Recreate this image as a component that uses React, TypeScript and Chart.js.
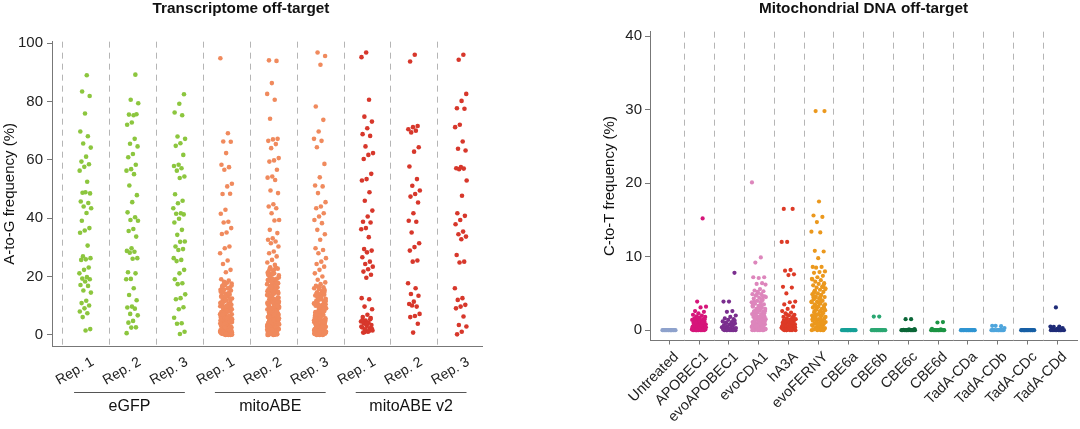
import React, { useEffect, useRef } from "react";
import { Chart, registerables } from "chart.js";

Chart.register(...registerables);

const FONT = "'Liberation Sans', Arial, Helvetica, sans-serif";

// ---------------- Left panel: Transcriptome off-target ----------------
const transcriptomeTitle = "Transcriptome off-target";
const transcriptomeYLabel = "A-to-G frequency (%)";
const transcriptomeCategories = ["Rep. 1", "Rep. 2", "Rep. 3", "Rep. 1", "Rep. 2", "Rep. 3", "Rep. 1", "Rep. 2", "Rep. 3"];
const transcriptomeGroups = ["eGFP", "mitoABE", "mitoABE v2"];
const transcriptomeGroupFirst = [0, 3, 6];
const transcriptomeGroupLast = [2, 5, 8];
const transcriptomeYTicks = [0, 20, 40, 60, 80, 100];

const egfpRep1 = [89.0, 83.4, 81.9, 75.9, 69.7, 68.1, 65.6, 64.2, 61.1, 59.4, 58.5, 57.6, 56.3, 52.5, 48.7, 48.5, 48.9, 45.7, 45.2, 44.0, 43.4, 41.8, 39.1, 36.6, 35.8, 35.0, 30.6, 26.9, 26.3, 25.9, 25.7, 23.1, 22.3, 21.1, 19.8, 19.3, 19.1, 18.3, 17.1, 16.8, 15.2, 14.5, 11.7, 10.9, 10.1, 9.1, 8.0, 7.4, 6.1, 2.0, 1.5];
const egfpRep2 = [89.2, 80.6, 79.4, 75.3, 75.5, 75.6, 72.8, 72.0, 67.2, 65.5, 64.6, 62.0, 60.9, 58.3, 56.8, 56.3, 55.1, 51.2, 47.9, 45.5, 42.0, 40.3, 39.4, 39.1, 36.3, 35.6, 33.7, 29.7, 28.8, 28.5, 28.2, 26.3, 26.1, 21.5, 21.1, 19.2, 19.1, 16.0, 13.7, 11.9, 9.7, 9.4, 9.0, 7.2, 6.7, 4.8, 4.2, 2.6, 2.5, 0.6];
const egfpRep3 = [82.5, 79.2, 76.2, 75.3, 68.0, 67.2, 65.7, 64.8, 61.7, 58.3, 57.9, 57.1, 56.3, 54.3, 53.8, 48.2, 46.0, 45.1, 43.4, 41.7, 41.5, 41.3, 39.8, 38.5, 36.0, 34.3, 32.0, 31.9, 30.3, 29.4, 29.1, 26.3, 25.7, 25.3, 22.3, 21.1, 19.1, 17.7, 17.4, 13.9, 12.6, 12.2, 9.5, 8.8, 5.9, 4.0, 3.8, 1.1, 0.3];

const mitoAbeRep1 = [94.8, 69.1, 66.3, 66.2, 62.3, 58.3, 57.5, 56.6, 51.8, 50.9, 48.3, 48.4, 42.9, 41.5, 38.8, 38.5, 36.6, 35.1, 34.6, 30.3, 29.7, 28.0, 25.5, 24.3, 22.3, 21.5, 19.1, 18.6,
  18.2, 17.6, 17.9, 16.8, 16.2, 17.1, 15.5, 15.9, 14.7, 15.2, 14.1, 13.6, 14.4, 13.0, 12.5, 13.3, 12.0, 11.6, 12.2, 11.1, 10.7, 11.4, 10.3, 9.9, 10.5, 9.6, 9.2, 9.8, 8.9, 8.5, 9.0, 8.2, 7.8, 8.6, 7.5, 7.1, 7.9, 6.8, 6.4, 7.2, 6.1, 5.8, 6.6, 5.5, 5.1, 5.9, 4.8, 4.4, 5.3, 4.1, 3.8, 4.6, 3.5, 3.1, 3.9, 2.8, 2.5, 3.3, 2.2, 1.9, 2.6, 1.6, 1.3, 2.0, 1.0, 0.7, 1.4, 0.4, 0.2, 0.8, 0.1, 0.5,
  9.4, 8.7, 7.3, 6.2, 5.0, 4.3, 3.6, 2.9, 2.3, 1.7, 1.1, 0.6, 0.3, 0.0, 11.8, 10.1, 8.0, 6.7, 5.6, 4.9, 3.2, 2.4, 1.5, 0.9, 0.2, 7.0, 5.2, 3.7, 2.1, 1.2, 0.4, 0.1, 6.0, 4.0, 2.7, 1.8, 0.7, 0.0, 3.0, 1.4, 0.5, 16.5, 13.8, 12.9, 10.9,
  0.3, 1.6, 2.9, 4.2, 5.4, 6.5, 7.7, 8.8, 10.0, 11.2, 12.4, 13.5, 14.8, 16.0, 17.3, 0.8, 2.0, 3.4, 4.7, 5.9, 7.1, 8.3, 9.5, 10.6, 11.9, 13.1, 14.3, 15.6, 16.9, 0.1, 1.2, 2.4, 3.7, 4.9, 6.2, 7.4, 8.6, 9.9, 0.5, 1.8, 3.1, 4.4, 5.7, 6.9, 8.1, 0.0, 1.0, 2.2, 3.5, 4.6, 5.8, 0.6, 1.5, 2.6, 3.9, 0.2, 1.1, 2.0, 0.4, 0.9];
const mitoAbeRep2 = [94.1, 93.9, 86.3, 82.6, 80.6, 74.1, 67.2, 67.0, 66.5, 65.4, 64.0, 60.6, 59.8, 59.4, 56.6, 54.3, 53.9, 53.1, 49.5, 48.6, 44.8, 44.0, 43.4, 41.7, 39.4, 39.2, 36.0, 34.9, 33.1, 32.6, 32.0, 31.4, 30.3, 28.6, 28.0, 26.9, 25.7, 24.8, 24.0,
  23.2, 22.7, 22.1, 21.6, 23.0, 21.0, 20.4, 22.4, 19.9, 19.3, 20.8, 18.8, 18.2, 19.6, 17.7, 17.1, 18.5, 16.6, 16.0, 17.4, 15.5, 14.9, 16.3, 14.4, 13.8, 15.2, 13.3, 12.7, 14.1, 12.2, 11.6, 13.0, 11.1, 10.5, 11.9, 10.0, 9.4, 10.8, 8.9, 8.3, 9.7, 7.8, 7.2, 8.6, 6.7, 6.1, 7.5, 5.6, 5.0, 6.4, 4.5, 3.9, 5.3, 3.4, 2.8, 4.2, 2.3, 1.7, 3.1, 1.2, 0.6, 2.0, 0.1, 0.9, 1.5, 0.3,
  21.3, 19.0, 16.8, 14.6, 12.4, 10.2, 8.0, 5.8, 3.6, 1.4, 20.1, 17.9, 15.7, 13.5, 11.3, 9.1, 6.9, 4.7, 2.5, 0.4, 18.0, 15.0, 12.0, 9.0, 6.0, 3.0, 0.0, 16.1, 13.6, 11.4, 8.5, 7.0, 4.9, 2.6, 1.0, 0.2, 19.4, 14.2, 10.6, 7.7, 5.5, 3.3, 1.8, 0.7, 12.9, 9.8, 6.3, 4.1, 2.2, 0.5, 11.0, 8.2, 5.1, 2.9, 1.1, 0.0, 17.3, 13.1, 7.4, 3.8, 1.6, 0.8, 15.4, 9.3, 4.4, 2.1, 0.3, 6.6, 3.5, 1.3,
  0.5, 1.9, 3.2, 4.6, 5.9, 7.3, 8.7, 10.1, 11.5, 12.8, 14.2, 15.6, 16.9, 18.3, 19.7, 21.1, 22.5, 0.2, 1.4, 2.7, 4.0, 5.3, 6.8, 8.1, 9.6, 10.9, 12.3, 13.7, 15.0, 16.4, 17.8, 19.2, 20.6, 0.8, 2.3, 3.7, 5.2, 6.5, 7.9, 9.2, 10.7, 12.1, 13.4, 14.8, 0.0, 1.7, 3.0, 4.3, 5.7, 7.1, 8.4, 9.9, 11.2, 0.4, 1.1, 2.5, 3.9, 5.0, 6.2, 0.9, 1.9, 2.8, 0.1, 0.6];
const mitoAbeRep3 = [96.8, 95.6, 92.6, 78.3, 73.7, 69.7, 67.2, 66.5, 64.3, 58.6, 54.0, 51.2, 50.9, 48.6, 45.5, 44.0, 43.4, 41.7, 40.6, 39.4, 38.3, 36.0, 34.5, 32.6, 29.7, 29.1, 28.0, 26.3, 25.1, 24.3, 23.4, 22.3, 21.1, 20.0, 18.9, 18.0, 17.4,
  16.8, 16.3, 15.7, 16.0, 15.1, 14.6, 15.4, 14.0, 13.5, 14.3, 12.9, 12.4, 13.2, 11.8, 11.3, 12.1, 10.7, 10.2, 11.0, 9.7, 9.3, 10.0, 8.8, 8.4, 9.1, 7.9, 7.5, 8.2, 7.0, 6.6, 7.3, 6.1, 5.7, 6.4, 5.2, 4.8, 5.5, 4.3, 3.9, 4.6, 3.4, 3.0, 3.7, 2.5, 2.1, 2.8, 1.6, 1.2, 1.9, 0.7, 0.3, 1.0, 0.1, 0.5,
  8.6, 7.7, 6.8, 5.9, 5.0, 4.1, 3.2, 2.3, 1.4, 0.6, 0.0, 12.7, 10.5, 9.5, 6.3, 4.4, 2.7, 1.8, 0.9, 0.2, 11.5, 7.2, 5.4, 3.6, 2.0, 1.1, 0.4, 0.0, 13.8, 8.0, 6.0, 3.3, 1.5, 0.8, 4.9, 2.6, 0.2,
  0.2, 1.5, 2.7, 4.0, 5.3, 6.5, 7.8, 9.0, 10.3, 11.6, 12.8, 14.1, 15.3, 16.5, 0.7, 2.0, 3.3, 4.5, 5.8, 7.1, 8.3, 9.6, 10.8, 12.2, 13.4, 14.7, 0.0, 1.3, 2.5, 3.8, 5.1, 6.3, 7.6, 8.9, 10.1, 0.5, 1.7, 3.0, 4.2, 5.6, 6.9, 8.1, 0.3, 1.1, 2.3, 3.5, 4.7, 0.9, 1.9, 2.9, 0.1, 0.6];

const mitoAbeV2Rep1 = [96.8, 95.2, 80.6, 74.8, 73.1, 70.8, 68.8, 68.2, 64.6, 62.3, 61.7, 60.3, 55.2, 53.4, 52.9, 48.9, 46.0, 42.6, 40.6, 38.8, 38.5, 36.6, 36.2, 33.5, 29.4, 28.9, 28.3, 26.6, 25.1, 24.3, 23.4, 22.5, 21.7, 20.6, 19.6, 12.6, 12.2, 9.7, 8.8, 6.9, 6.1, 5.4, 4.9, 4.6, 4.2, 4.0, 3.4, 3.1, 2.6, 2.3, 1.9, 1.5, 1.1, 0.8, 5.8, 3.7, 2.9, 1.3, 0.9, 2.1, 3.9, 5.1];
const mitoAbeV2Rep2 = [96.0, 93.7, 71.6, 71.2, 70.5, 70.0, 69.4, 64.3, 62.8, 57.7, 53.4, 51.1, 49.5, 48.3, 47.4, 45.4, 41.7, 39.1, 38.8, 35.1, 31.4, 30.1, 28.9, 25.5, 25.1, 17.7, 16.0, 14.0, 13.4, 11.4, 10.6, 9.7, 10.1, 7.2, 6.5, 6.1, 3.8, 0.8];
const mitoAbeV2Rep3 = [96.0, 94.3, 82.6, 80.2, 77.7, 77.5, 72.0, 71.2, 66.3, 63.8, 63.2, 57.5, 57.1, 57.0, 56.8, 52.9, 47.7, 41.7, 40.8, 39.4, 37.9, 35.4, 34.5, 33.7, 32.8, 27.4, 25.1, 24.8, 16.0, 12.6, 12.0, 10.3, 9.7, 9.1, 6.3, 3.4, 2.9, 1.1, 0.2];

const transcriptomeSeries = [egfpRep1, egfpRep2, egfpRep3, mitoAbeRep1, mitoAbeRep2, mitoAbeRep3, mitoAbeV2Rep1, mitoAbeV2Rep2, mitoAbeV2Rep3];
const transcriptomeColors = ["#8cc63e", "#8cc63e", "#8cc63e", "#f08a5d", "#f08a5d", "#f08a5d", "#d7372b", "#d7372b", "#d7372b"];

// ---------------- Right panel: Mitochondrial DNA off-target ----------------
const mitoTitle = "Mitochondrial DNA off-target";
const mitoYLabel = "C-to-T frequency (%)";
const mitoCategories = ["Untreated", "APOBEC1", "evoAPOBEC1", "evoCDA1", "hA3A", "evoFERNY", "CBE6a", "CBE6b", "CBE6c", "CBE6d", "TadA-CDa", "TadA-CDb", "TadA-CDc", "TadA-CDd"];
const mitoYTicks = [0, 10, 20, 30, 40];

const untreated = [0, 0, 0, 0, 0, 0, 0, 0, 0, 0, 0, 0, 0, 0];
const apobec1 = [15.2, 3.9, 3.2, 3.1, 2.6, 2.5, 2.3, 2.1, 2.0, 1.9, 1.8, 1.7, 1.6, 1.5, 1.5, 1.4, 1.3, 1.2, 1.2, 1.1, 1.0, 1.0, 0.9, 0.8, 0.8, 0.7, 0.6, 0.6, 0.5, 0.4, 0.4, 0.3, 0.3, 0.2, 0.2, 0.1, 0.1, 0.0, 0.0, 0.0, 0.0, 0.0, 0.0, 0.0,
  0.1, 0.5, 0.9, 1.3, 1.7, 0.3, 0.7, 1.1, 1.5, 0.2, 0.6, 1.0, 0.0, 0.4];
const evoApobec1 = [7.8, 3.9, 3.9, 2.6, 2.5, 2.0, 1.8, 1.6, 1.5, 1.4, 1.2, 1.1, 1.0, 0.9, 0.8, 0.7, 0.6, 0.5, 0.4, 0.3, 0.3, 0.2, 0.1, 0.1, 0.0, 0.0, 0.0, 0.0, 0.0, 0.0,
  0.1, 0.4, 0.7, 1.0, 1.3, 0.2, 0.5, 0.8, 0.0, 0.3];
const evoCda1 = [20.1, 9.9, 9.2, 7.2, 7.1, 7.2, 6.4, 6.3, 6.2, 5.6, 5.4, 5.3, 5.1, 4.9, 4.9, 4.7, 4.6, 4.4, 4.3, 4.1, 4.0, 3.8, 3.8, 3.6, 3.5, 3.3, 3.2, 3.1, 2.9, 2.9, 2.7, 2.6, 2.5, 2.4, 2.2, 2.2, 2.1, 1.9, 1.8, 1.8, 1.7, 1.5, 1.5, 1.4, 1.3, 1.2, 1.1, 1.1, 1.0, 0.9, 0.8, 0.8, 0.7, 0.6, 0.6, 0.5, 0.4, 0.4, 0.3, 0.3, 0.2, 0.2, 0.1, 0.1, 0.0, 0.0, 0.0, 0.0, 0.0, 3.0, 2.3, 1.6, 1.2, 0.9, 0.5, 0.2, 4.5, 3.4, 2.0, 1.0,
  0.1, 0.7, 1.3, 1.9, 2.6, 3.2, 3.9, 4.6, 5.2, 0.4, 1.0, 1.6, 2.3, 2.9, 3.6, 4.2, 4.8, 0.2, 0.9, 1.4, 2.0, 2.7, 3.3, 4.0, 0.5, 1.2, 1.8, 2.5, 0.0, 0.6];
const hA3A = [16.5, 16.5, 12.0, 12.0, 8.2, 8.1, 7.6, 7.5, 5.9, 5.8, 5.0, 3.9, 3.8, 3.5, 3.2, 2.9, 2.6, 2.4, 2.3, 2.1, 2.0, 1.8, 1.7, 1.6, 1.5, 1.4, 1.3, 1.2, 1.1, 1.0, 0.9, 0.9, 0.8, 0.7, 0.6, 0.5, 0.5, 0.4, 0.3, 0.3, 0.2, 0.1, 0.1, 0.0, 0.0, 0.0, 0.0, 0.0, 1.9, 1.2, 0.6, 0.2,
  0.1, 0.5, 0.9, 1.3, 1.7, 2.1, 0.3, 0.7, 1.1, 1.5, 0.2, 0.6, 1.0, 0.0, 0.4];
const evoFerny = [29.8, 29.8, 17.5, 15.6, 15.4, 14.7, 13.4, 13.3, 10.8, 10.7, 9.8, 8.6, 8.6, 8.5, 8.0, 7.9, 7.8, 7.4, 7.2, 7.0, 6.8, 6.6, 6.4, 6.3, 6.1, 5.9, 5.8, 5.6, 5.5, 5.3, 5.2, 5.0, 4.9, 4.8, 4.6, 4.5, 4.3, 4.2, 4.0, 3.9, 3.8, 3.6, 3.5, 3.3, 3.2, 3.1, 2.9, 2.8, 2.7, 2.5, 2.4, 2.3, 2.1, 2.0, 1.9, 1.8, 1.6, 1.5, 1.4, 1.3, 1.2, 1.1, 1.0, 0.9, 0.8, 0.7, 0.6, 0.5, 0.4, 0.3, 0.2, 0.1, 0.0, 0.0, 0.0, 0.0, 4.4, 3.0, 2.2, 1.7, 0.9, 0.4, 5.7, 3.7, 2.6, 1.1, 0.2, 6.9, 4.1, 1.5,
  0.2, 0.9, 1.6, 2.4, 3.1, 3.9, 4.6, 5.4, 6.2, 0.5, 1.3, 2.0, 2.8, 3.5, 4.3, 5.1, 5.9, 0.1, 0.7, 1.4, 2.2, 2.9, 3.7, 4.5, 0.4, 1.0, 1.8, 2.6, 3.4, 0.0, 0.8, 1.5];
const cbe6a = [0, 0, 0, 0, 0, 0, 0, 0, 0, 0, 0, 0, 0, 0];
const cbe6b = [1.85, 1.85, 0, 0, 0, 0, 0, 0, 0, 0, 0, 0, 0, 0, 0];
const cbe6c = [1.5, 1.5, 0.15, 0.1, 0.05, 0, 0, 0, 0, 0, 0, 0, 0, 0, 0, 0];
const cbe6d = [1.1, 1.05, 0.2, 0.1, 0, 0, 0, 0, 0, 0, 0, 0, 0, 0, 0];
const tadaCda = [0, 0, 0, 0, 0, 0, 0, 0, 0, 0, 0, 0, 0, 0];
const tadaCdb = [0.6, 0.55, 0.6, 0.3, 0, 0, 0, 0, 0, 0, 0, 0, 0, 0, 0];
const tadaCdc = [0, 0, 0, 0, 0, 0, 0, 0, 0, 0, 0, 0, 0, 0];
const tadaCdd = [3.1, 0.5, 0.5, 0.45, 0.3, 0.2, 0.1, 0, 0, 0, 0, 0, 0, 0, 0, 0];

const mitoSeries = [untreated, apobec1, evoApobec1, evoCda1, hA3A, evoFerny, cbe6a, cbe6b, cbe6c, cbe6d, tadaCda, tadaCdb, tadaCdc, tadaCdd];
const mitoColors = ["#8ea2cc", "#d6157a", "#7a2e8e", "#dd86bc", "#dd3a26", "#eb981d", "#15a097", "#2aa772", "#0a6637", "#1b9443", "#2f95d2", "#4ea5dc", "#175fa5", "#1f2c78"];

// ---------------- helpers ----------------
// deterministic strip-plot jitter (low-discrepancy sequence), horizontal positions only
function jitterUnit(i: number, seed: number): number {
  const u = ((i + 1) * 0.6180339887498949 + seed * 0.1357) % 1;
  return u * 2 - 1;
}

function buildDatasets(series: number[][], colors: string[], width: number, radius: number) {
  return series.map((vals, c) => ({
    data: vals.map((v, i) => ({ x: c + jitterUnit(i, c) * width, y: v })),
    backgroundColor: colors[c],
    borderColor: colors[c],
    borderWidth: 0,
    pointRadius: radius,
    pointHoverRadius: radius,
    showLine: false,
  }));
}

const dividerPlugin = {
  id: "dividers",
  beforeDatasetsDraw(chart: any, _args: any, opts: any) {
    if (!opts || !opts.positions) return;
    const { ctx, chartArea, scales } = chart;
    ctx.save();
    ctx.strokeStyle = opts.color;
    ctx.lineWidth = 1;
    ctx.setLineDash(opts.dash);
    for (const p of opts.positions) {
      const x = Math.round(scales.x.getPixelForValue(p)) + 0.5;
      ctx.beginPath();
      ctx.moveTo(x, chartArea.top);
      ctx.lineTo(x, chartArea.bottom);
      ctx.stroke();
    }
    ctx.restore();
  },
};

// rotated category labels under the x axis, anchored at each category's scale position
const categoryLabelPlugin = {
  id: "categoryLabels",
  afterDraw(chart: any, _args: any, opts: any) {
    if (!opts || !opts.labels) return;
    const { ctx, chartArea, scales } = chart;
    ctx.save();
    ctx.fillStyle = "#222";
    ctx.font = `${opts.size}px ${FONT}`;
    ctx.textAlign = "right";
    ctx.textBaseline = "top";
    opts.labels.forEach((label: string, i: number) => {
      const x = scales.x.getPixelForValue(i) + opts.dx;
      const y = chartArea.bottom + opts.dy;
      ctx.save();
      ctx.translate(x, y);
      ctx.rotate((-opts.angle * Math.PI) / 180);
      ctx.fillText(label, 0, 0);
      ctx.restore();
    });
    ctx.restore();
  },
};

const groupPlugin = {
  id: "groupLabels",
  afterDraw(chart: any, _args: any, opts: any) {
    if (!opts || !opts.labels) return;
    const { ctx, chartArea, scales } = chart;
    ctx.save();
    ctx.strokeStyle = "#555";
    ctx.lineWidth = 1;
    ctx.setLineDash([]);
    ctx.fillStyle = "#111";
    ctx.font = `16px ${FONT}`;
    ctx.textAlign = "center";
    ctx.textBaseline = "middle";
    opts.labels.forEach((label: string, g: number) => {
      const x0 = scales.x.getPixelForValue(opts.first[g] - 0.24);
      const x1 = scales.x.getPixelForValue(opts.last[g] + 0.12);
      const yLine = Math.round(chartArea.bottom + 46) + 0.5;
      ctx.beginPath();
      ctx.moveTo(x0, yLine);
      ctx.lineTo(x1, yLine);
      ctx.stroke();
      ctx.fillText(label, (x0 + x1) / 2, chartArea.bottom + 61);
    });
    ctx.restore();
  },
};

function makeLeftConfig(): any {
  return {
    type: "scatter",
    data: { datasets: buildDatasets(transcriptomeSeries, transcriptomeColors, 0.13, 2.3) },
    plugins: [dividerPlugin, categoryLabelPlugin, groupPlugin],
    options: {
      animation: false,
      responsive: false,
      events: [],
      layout: { padding: { left: 0, right: 14, top: 0, bottom: 0 } },
      plugins: {
        legend: { display: false },
        tooltip: { enabled: false },
        title: {
          display: true,
          text: transcriptomeTitle,
          color: "#111",
          font: { family: FONT, size: 15.3, weight: "bold", lineHeight: 1.2 },
          padding: { top: 0, bottom: 23.3 },
        },
        dividers: {
          positions: transcriptomeCategories.map((_, i) => i - 0.5),
          color: "#b5b5b5",
          dash: [6, 5],
        },
        categoryLabels: { labels: transcriptomeCategories, size: 14, angle: 30, dx: 4, dy: 9 },
        groupLabels: { labels: transcriptomeGroups, first: transcriptomeGroupFirst, last: transcriptomeGroupLast },
      },
      scales: {
        x: {
          type: "linear",
          min: -0.71,
          max: 8.45,
          afterBuildTicks: (s: any) => {
            s.ticks = transcriptomeCategories.map((_, i) => ({ value: i }));
          },
          afterFit: (s: any) => {
            s.height = 83;
          },
          ticks: { display: false },
          grid: { display: false, drawTicks: false },
          border: { display: true, color: "#777", width: 1 },
        },
        y: {
          type: "linear",
          min: -3.8,
          max: 100.5,
          afterBuildTicks: (s: any) => {
            s.ticks = transcriptomeYTicks.map((v) => ({ value: v }));
          },
          afterFit: (s: any) => {
            s.width = 52;
          },
          ticks: { padding: 4, color: "#222", font: { family: FONT, size: 15 } },
          grid: { display: true, drawOnChartArea: false, drawTicks: true, tickLength: 5, color: "#777" },
          border: { display: true, color: "#777", width: 1 },
          title: {
            display: true,
            text: transcriptomeYLabel,
            color: "#111",
            font: { family: FONT, size: 15, lineHeight: 1.2 },
            padding: { top: 1, bottom: 0 },
          },
        },
      },
    },
  };
}

function makeRightConfig(): any {
  return {
    type: "scatter",
    data: { datasets: buildDatasets(mitoSeries, mitoColors, 0.24, 2.1) },
    plugins: [dividerPlugin, categoryLabelPlugin],
    options: {
      animation: false,
      responsive: false,
      events: [],
      layout: { padding: { left: 100, right: 3, top: 0, bottom: 0 } },
      plugins: {
        legend: { display: false },
        tooltip: { enabled: false },
        title: {
          display: true,
          fullSize: false,
          text: mitoTitle,
          color: "#111",
          font: { family: FONT, size: 15.3, weight: "bold", lineHeight: 1.2 },
          padding: { top: 0, bottom: 13.3 },
        },
        dividers: {
          positions: mitoCategories.slice(1).map((_, i) => i + 0.5),
          color: "#b5b5b5",
          dash: [6, 5],
        },
        categoryLabels: { labels: mitoCategories, size: 14.5, angle: 45, dx: 2, dy: 9 },
      },
      scales: {
        x: {
          type: "linear",
          min: -0.64,
          max: 13.65,
          afterBuildTicks: (s: any) => {
            s.ticks = mitoCategories.map((_, i) => ({ value: i }));
          },
          afterFit: (s: any) => {
            s.height = 88.5;
          },
          ticks: { display: false },
          grid: { display: true, drawOnChartArea: false, drawTicks: true, tickLength: 4, color: "#777" },
          border: { display: true, color: "#777", width: 1 },
        },
        y: {
          type: "linear",
          min: -1.4,
          max: 40.6,
          afterBuildTicks: (s: any) => {
            s.ticks = mitoYTicks.map((v) => ({ value: v }));
          },
          afterFit: (s: any) => {
            s.width = 54;
          },
          ticks: { padding: 3, color: "#222", font: { family: FONT, size: 15 } },
          grid: { display: true, drawOnChartArea: false, drawTicks: true, tickLength: 5, color: "#777" },
          border: { display: true, color: "#777", width: 1 },
          title: {
            display: true,
            text: mitoYLabel,
            color: "#111",
            font: { family: FONT, size: 15, lineHeight: 1.2 },
            padding: { top: 4.6, bottom: 0 },
          },
        },
      },
    },
  };
}

export default function App() {
  const leftRef = useRef<HTMLCanvasElement>(null);
  const rightRef = useRef<HTMLCanvasElement>(null);

  useEffect(() => {
    document.body.style.margin = "0";
    const left = new Chart(leftRef.current as HTMLCanvasElement, makeLeftConfig());
    const right = new Chart(rightRef.current as HTMLCanvasElement, makeRightConfig());
    return () => {
      left.destroy();
      right.destroy();
    };
  }, []);

  return (
    <div style={{ position: "absolute", left: 0, top: 0, width: 1080, height: 429, background: "#fff" }}>
      <canvas
        ref={leftRef}
        width={496}
        height={429}
        style={{ position: "absolute", left: 0, top: 0, width: 496, height: 429 }}
      />
      <canvas
        ref={rightRef}
        width={584}
        height={429}
        style={{ position: "absolute", left: 496, top: 0, width: 584, height: 429 }}
      />
    </div>
  );
}
